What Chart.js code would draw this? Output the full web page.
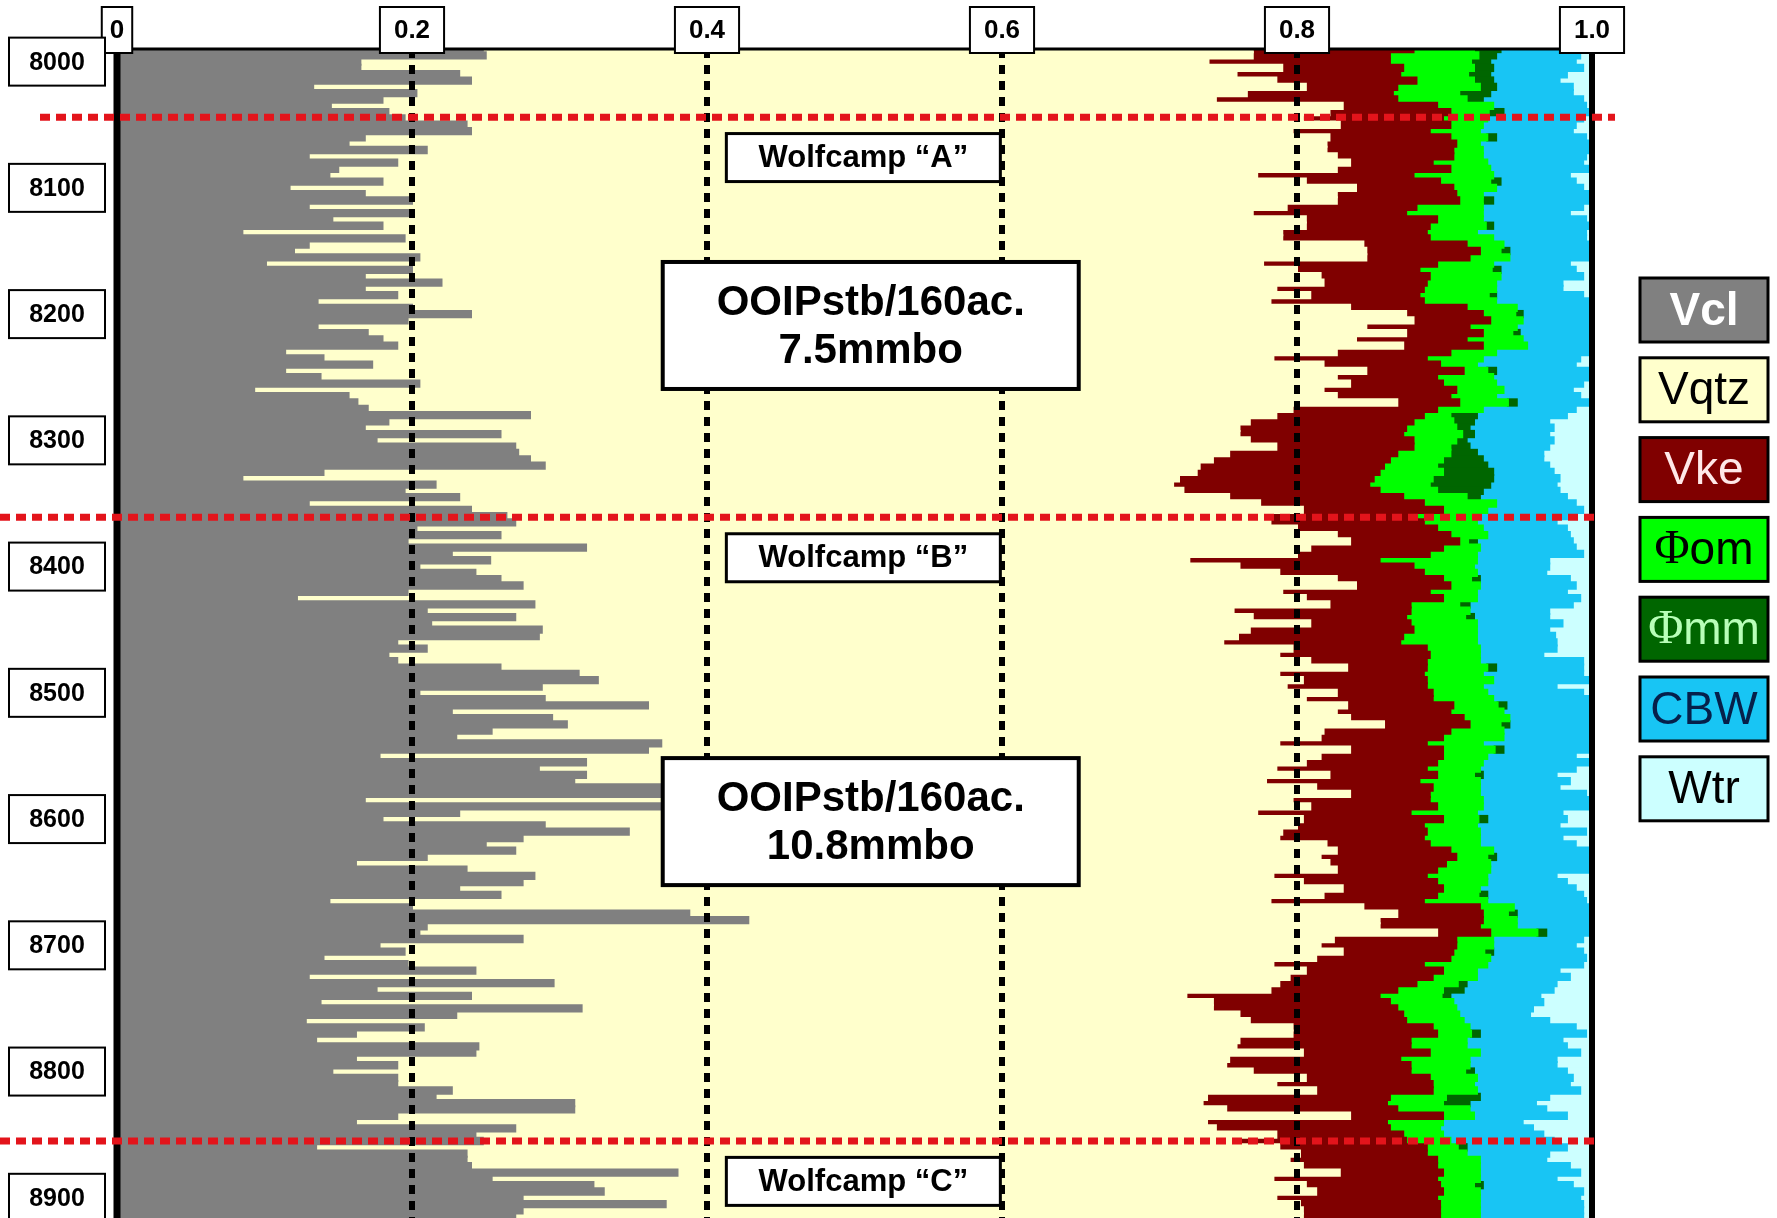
<!DOCTYPE html>
<html>
<head>
<meta charset="utf-8">
<script src="https://cdn.jsdelivr.net/npm/chart.js@4.4.0/dist/chart.umd.min.js"></script>
<style>
  html, body { margin: 0; padding: 0; background: #fff; }
  #wrap { width: 1777px; height: 1218px; }
</style>
</head>
<body>
<div id="wrap"><canvas id="logChart"></canvas></div>
<script>
// DEPTH SAMPLES (ft)
const depths = [
  7990,7995,8000,8005,8010,8015,8020,8025,8030,8035,
  8040,8045,8050,8055,8060,8065,8070,8075,8080,8085,
  8090,8095,8100,8105,8110,8115,8120,8125,8130,8135,
  8140,8145,8150,8155,8160,8165,8170,8175,8180,8185,
  8190,8195,8200,8205,8210,8215,8220,8225,8230,8235,
  8240,8245,8250,8255,8260,8265,8270,8275,8280,8285,
  8290,8295,8300,8305,8310,8315,8320,8325,8330,8335,
  8340,8345,8350,8355,8360,8365,8370,8375,8380,8385,
  8390,8395,8400,8405,8410,8415,8420,8425,8430,8435,
  8440,8445,8450,8455,8460,8465,8470,8475,8480,8485,
  8490,8495,8500,8505,8510,8515,8520,8525,8530,8535,
  8540,8545,8550,8555,8560,8565,8570,8575,8580,8585,
  8590,8595,8600,8605,8610,8615,8620,8625,8630,8635,
  8640,8645,8650,8655,8660,8665,8670,8675,8680,8685,
  8690,8695,8700,8705,8710,8715,8720,8725,8730,8735,
  8740,8745,8750,8755,8760,8765,8770,8775,8780,8785,
  8790,8795,8800,8805,8810,8815,8820,8825,8830,8835,
  8840,8845,8850,8855,8860,8865,8870,8875,8880,8885,
  8890,8895,8900,8905,8910,8915
];

// CUMULATIVE VOLUME (% of bulk), right edge of each component
const vclTop = [
  24.8,25.0,16.5,16.5,23.2,24.0,13.3,20.3,18.0,14.5,
  18.4,19.5,23.7,24.0,16.8,15.7,21.0,13.0,19.0,15.0,
  14.4,18.0,11.7,16.8,20.0,13.0,20.0,14.6,18.0,8.5,
  19.5,13.0,12.0,20.5,10.1,20.0,16.8,22.0,16.8,19.0,
  13.6,20.0,24.0,19.7,13.6,17.0,18.0,19.0,11.4,14.0,
  17.3,11.4,13.8,20.5,9.3,15.7,16.3,17.0,28.0,18.4,
  16.8,26.0,17.6,27.0,27.2,28.0,29.0,14.0,8.5,21.6,
  19.5,23.2,13.0,24.0,26.4,27.0,20.3,26.0,19.7,31.8,
  22.7,25.3,20.5,24.3,26.0,27.5,19.7,12.2,28.3,21.0,
  27.0,21.3,28.8,28.6,19.0,21.0,18.4,19.0,26.0,31.3,
  32.6,28.8,20.5,29.0,36.0,22.7,29.5,30.5,25.4,23.0,
  36.9,36.0,17.8,31.8,28.6,31.8,31.0,36.9,36.9,16.8,
  36.9,23.2,18.0,29.0,34.7,27.5,25.0,27.0,21.0,16.2,
  23.7,28.3,27.5,23.2,26.0,14.4,20.0,38.8,42.8,21.0,
  20.5,27.5,17.8,19.5,14.0,19.7,24.3,13.0,29.6,17.6,
  24.0,13.8,31.5,23.0,12.8,20.8,16.2,13.5,24.5,24.3,
  16.2,19.0,14.6,19.0,19.0,22.7,21.6,31.0,31.0,19.0,
  16.2,27.0,24.3,24.8,13.5,23.7,23.7,24.0,38.0,25.4,
  32.3,33.0,27.5,37.2,27.5,27.0
];
const qtzTop = [
  77.0,77.0,74.0,79.0,75.9,78.6,80.6,76.6,74.5,83.1,
  82.2,80.4,82.9,79.7,82.2,82.0,82.0,82.7,83.6,82.7,
  77.3,80.6,84.0,82.7,82.7,79.3,77.0,80.6,80.6,79.0,
  79.0,84.5,84.7,84.7,77.7,80.0,81.6,81.8,78.6,80.9,
  78.2,83.6,87.4,87.9,84.7,87.4,84.0,87.2,82.7,78.4,
  81.8,84.7,82.7,83.6,81.8,82.7,86.8,79.7,78.6,76.8,
  76.1,76.1,76.8,78.6,75.4,74.3,73.4,73.2,72.0,71.6,
  72.3,75.4,77.5,80.4,77.7,78.2,80.0,82.7,83.6,80.9,
  80.0,72.7,76.1,78.8,82.7,84.0,79.0,80.6,82.2,75.7,
  77.0,80.9,76.8,76.0,75.0,79.7,78.8,80.9,83.4,78.8,
  80.4,79.3,82.7,80.6,83.4,82.7,83.6,85.9,81.8,81.6,
  78.8,83.6,81.6,80.6,78.6,82.2,77.9,81.3,83.6,79.7,
  80.9,77.3,80.4,80.0,79.0,78.8,82.0,82.7,81.6,82.2,
  82.7,78.4,80.4,83.1,81.8,78.2,84.5,86.8,85.6,85.6,
  89.5,82.5,81.6,83.1,81.3,78.4,80.6,79.5,78.8,78.2,
  72.5,74.3,74.3,76.1,76.8,79.7,79.7,76.1,75.9,80.4,
  75.4,75.2,77.0,80.6,78.6,81.3,73.9,73.6,75.2,83.6,
  73.9,74.5,78.6,76.1,78.8,80.2,79.5,80.4,82.9,78.4,
  80.6,81.3,78.6,80.2,80.4,80.4
];
const keTop = [
  87.9,86.3,86.3,87.2,87.0,88.1,86.8,86.5,86.8,89.5,
  90.4,89.9,90.4,89.0,90.4,90.8,90.6,90.6,89.2,90.4,
  87.9,89.7,90.6,90.8,91.0,88.1,87.4,89.5,89.0,88.8,
  89.0,91.5,92.4,91.7,89.5,88.3,89.0,88.8,88.6,88.3,
  88.6,91.5,92.6,93.1,91.7,92.6,91.5,92.6,90.4,88.8,
  89.7,91.3,89.5,89.9,90.8,90.4,91.0,89.5,88.6,87.9,
  87.4,87.2,87.9,87.9,86.8,86.3,85.9,85.6,85.2,84.9,
  85.6,87.2,88.6,89.9,87.7,88.6,89.5,90.4,91.0,89.9,
  89.0,85.6,87.9,88.6,89.9,90.4,89.0,89.9,87.7,87.7,
  87.4,87.7,87.9,87.2,87.0,88.8,89.0,88.8,88.8,88.6,
  88.8,88.8,89.2,89.2,90.6,90.4,91.3,91.7,90.4,89.9,
  88.8,89.9,89.9,89.5,88.8,89.5,88.3,89.2,89.0,89.0,
  89.5,87.7,89.9,88.6,88.8,88.6,89.0,90.4,90.8,90.1,
  89.5,88.8,89.5,89.9,89.5,88.6,92.4,92.6,92.6,92.4,
  93.1,90.8,90.8,90.6,90.4,88.6,89.9,89.2,88.1,86.8,
  85.6,86.3,86.8,87.2,87.4,89.2,89.5,87.7,87.7,89.0,
  87.0,87.7,87.7,89.0,89.2,89.2,86.3,86.1,86.8,89.9,
  86.1,86.3,87.2,87.4,88.8,88.8,89.5,89.5,89.9,89.5,
  89.7,89.9,89.5,89.7,89.7,89.7
];
const omTop = [
  92.0,92.3,91.8,92.0,91.6,92.0,92.4,91.0,91.5,93.3,
  93.0,92.9,92.6,92.4,92.9,92.4,92.6,92.6,92.9,93.1,
  93.3,93.1,93.5,92.6,92.6,92.6,92.6,92.6,92.8,92.2,
  93.3,94.0,93.8,94.4,93.3,93.2,93.8,93.5,93.5,93.0,
  93.5,94.9,94.8,95.3,94.9,94.6,95.3,95.6,93.5,92.6,
  92.2,92.9,93.3,93.5,94.0,93.5,94.3,92.6,90.4,90.6,
  90.8,91.2,90.8,90.4,90.4,89.9,89.5,89.9,89.2,89.0,
  89.5,91.5,93.5,92.9,92.2,92.2,92.6,92.9,91.6,92.4,
  92.2,92.2,92.0,92.2,91.8,92.4,92.2,92.2,91.0,91.7,
  91.4,92.2,92.2,92.2,92.2,92.4,92.4,92.4,92.9,92.6,
  93.3,92.6,92.9,93.3,93.6,94.0,94.4,93.8,94.0,94.0,
  92.6,93.4,92.9,92.6,92.4,92.0,92.4,92.4,92.4,92.6,
  92.6,92.2,92.3,92.2,92.4,92.4,92.4,93.3,92.9,93.1,
  93.1,92.9,92.9,92.4,92.3,92.9,94.7,94.3,94.9,94.9,
  96.3,93.3,93.3,92.7,93.1,92.9,92.2,92.2,90.9,89.9,
  89.8,90.6,90.8,91.0,91.3,91.7,91.8,91.5,91.5,92.4,
  91.7,91.7,91.4,92.2,92.0,92.2,90.1,89.9,91.7,92.0,
  89.9,89.7,89.9,90.4,90.9,91.5,92.4,92.4,92.4,92.4,
  92.0,92.4,92.4,92.4,92.4,92.4
];
const mmTop = [
  93.8,93.5,93.1,93.3,93.1,93.3,93.5,93.1,92.6,93.3,
  94.0,92.9,92.6,92.4,93.5,92.4,92.6,92.6,92.9,93.1,
  93.3,93.8,93.5,92.6,93.3,92.6,92.6,92.6,93.3,92.2,
  93.3,94.0,94.4,94.4,93.3,93.8,93.8,93.5,93.5,93.5,
  93.5,94.9,95.3,95.3,94.9,95.1,95.3,95.6,93.5,92.6,
  92.2,93.5,93.3,93.5,94.0,93.5,94.9,92.6,92.2,92.0,
  91.7,92.0,91.5,91.7,92.2,92.6,92.9,93.3,93.3,93.1,
  92.6,92.4,93.5,92.9,92.2,92.2,92.6,92.9,92.2,92.4,
  92.2,92.2,92.0,92.2,92.4,92.4,92.2,92.2,91.7,91.7,
  92.0,92.2,92.2,92.2,92.2,92.4,92.4,92.4,93.5,92.6,
  93.3,92.6,92.9,93.3,94.2,94.0,94.4,94.4,94.0,94.0,
  92.6,94.0,92.9,92.6,92.4,92.6,92.4,92.4,92.4,92.6,
  92.6,92.2,92.9,92.2,92.4,92.4,92.4,93.3,93.5,93.1,
  93.1,92.9,92.9,92.4,92.9,92.9,94.7,94.9,94.9,94.9,
  96.9,93.3,93.3,93.3,93.1,92.9,92.2,92.2,91.5,91.3,
  90.4,90.6,90.8,91.0,91.3,91.7,92.4,91.5,91.5,92.4,
  91.7,91.7,92.0,92.2,92.0,92.2,92.4,91.7,91.7,92.0,
  89.9,89.7,89.9,90.4,91.5,91.5,92.4,92.4,92.4,92.4,
  92.6,92.4,92.4,92.4,92.4,92.4
];
const cbwTop = [
  98.7,99.2,98.9,99.4,98.3,97.8,98.7,98.7,99.4,99.6,
  99.9,99.4,98.9,98.7,99.6,99.9,100,99.6,99.4,99.9,
  98.5,98.9,99.4,100,99.9,99.4,98.5,99.6,99.9,99.6,
  99.6,99.9,99.9,99.9,98.5,98.9,99.4,98.0,98.0,99.4,
  100,100,100,100,100,100,100,100,100,99.2,
  98.9,99.9,99.9,99.4,98.7,99.2,99.9,98.9,98.3,97.1,
  97.4,97.1,97.4,97.1,96.7,96.7,97.1,97.4,97.8,97.6,
  97.8,98.3,98.9,99.4,98.3,97.6,98.3,98.5,98.7,98.9,
  99.4,97.1,97.1,96.9,98.5,98.9,98.3,99.2,98.7,97.1,
  97.1,98.0,97.1,97.5,97.6,97.6,96.7,99.4,99.4,99.4,
  99.9,97.6,99.4,100,100,100,100,100,100,100,
  100,99.9,98.9,100,98.9,97.6,98.5,97.8,99.6,99.9,
  100,98.0,98.3,97.8,99.6,98.0,98.9,100,100,99.9,
  99.9,97.6,98.3,98.9,99.4,99.6,100,100,100,100,
  100,99.4,98.9,99.4,99.6,99.4,97.8,98.5,97.6,97.4,
  96.5,96.7,96.0,95.8,97.1,98.9,99.6,98.0,98.3,99.2,
  97.6,97.6,98.3,98.7,98.5,99.2,97.1,96.2,96.9,98.3,
  95.3,96.0,96.7,97.4,98.3,97.1,96.9,98.5,99.2,97.6,
  98.7,99.4,99.2,99.4,99.4,99.4
];

const seriesNames = ['Vcl', 'Vqtz', 'Vke', 'Φom', 'Φmm', 'CBW', 'Wtr'];
const seriesColors = ['#808080', '#ffffcc', '#800000', '#00ff00', '#006600', '#18c5f4', '#ccffff'];
const legendTextColors = ['#ffffff', '#000000', '#ffe8e8', '#000000', '#b8ffb8', '#06204a', '#000000'];

const xTicks = [0, 0.2, 0.4, 0.6, 0.8, 1.0];
const xTickLabels = ['0', '0.2', '0.4', '0.6', '0.8', '1.0'];
const depthTicks = [8000, 8100, 8200, 8300, 8400, 8500, 8600, 8700, 8800, 8900];

// formation tops (ft) and labels
const zoneTops = [8044, 8361, 8855];
const zoneLabels = ['Wolfcamp “A”', 'Wolfcamp “B”', 'Wolfcamp “C”'];
const oilLabels = [['OOIPstb/160ac.', '7.5mmbo'], ['OOIPstb/160ac.', '10.8mmbo']];

// STACKED COMPONENTS (empty pieces left out so nothing is drawn for them)
const tops = [vclTop, qtzTop, keTop, omTop, mmTop, cbwTop, depths.map(() => 100)];

const datasets = seriesNames.map((name, k) => ({
  label: name,
  data: depths.map((d, i) => {
    const part = tops[k][i] - (k ? tops[k - 1][i] : 0);
    return { y: d, x: part > 0 ? part / 100 : null };
  }),
  backgroundColor: seriesColors[k],
  borderWidth: 0,
  inflateAmount: 1,
  barPercentage: 1,
  categoryPercentage: 1
}));

const SANS = '"Liberation Sans", Arial, sans-serif';

function box(ctx, cx, cy, w, h, lw) {
  ctx.fillStyle = '#fff';
  ctx.fillRect(cx - w / 2, cy - h / 2, w, h);
  ctx.lineWidth = lw;
  ctx.strokeStyle = '#000';
  ctx.strokeRect(cx - w / 2, cy - h / 2, w, h);
}

function legendText(ctx, label, cx, cy, color, bold) {
  const sans = (bold ? 'bold ' : '') + '46px ' + SANS;
  const serif = '48px "Liberation Serif", "Times New Roman", serif';
  let head = '', rest = label;
  if (label[0] === 'Φ') { head = 'Φ'; rest = label.slice(1); }
  ctx.font = serif;
  const hw = head ? ctx.measureText(head).width : 0;
  ctx.font = sans;
  const rw = ctx.measureText(rest).width;
  let left = cx - (hw + rw) / 2;
  ctx.fillStyle = color;
  ctx.textAlign = 'left';
  ctx.textBaseline = 'middle';
  if (head) { ctx.font = serif; ctx.fillText(head, left, cy + 1); left += hw; }
  ctx.font = sans;
  ctx.fillText(rest, left, cy + 2);
}

// OVERLAY: grid, zone tops, label boxes, legend
const overlay = {
  id: 'overlay',
  afterDatasetsDraw(chart) {
    const { ctx, chartArea: a, scales: { x, y } } = chart;
    ctx.save();

    // vertical grid, drawn over the log
    ctx.strokeStyle = '#000';
    xTicks.forEach(v => {
      const px = x.getPixelForValue(v);
      ctx.beginPath();
      ctx.lineWidth = v === 0 ? 7 : 6;
      ctx.setLineDash(v === 0 || v === 1 ? [] : [9, 7]);
      ctx.moveTo(px, a.top);
      ctx.lineTo(px, a.bottom);
      ctx.stroke();
    });
    ctx.setLineDash([]);
    ctx.lineWidth = 3;
    ctx.beginPath();
    ctx.moveTo(a.left, a.top);
    ctx.lineTo(a.right, a.top);
    ctx.stroke();

    // formation tops
    ctx.strokeStyle = '#e3141b';
    ctx.lineWidth = 7;
    ctx.setLineDash([10, 6]);
    zoneTops.forEach((d, i) => {
      const py = y.getPixelForValue(d);
      ctx.beginPath();
      ctx.moveTo(i === 0 ? 40 : 0, py);
      ctx.lineTo(i === 0 ? 1615 : 1598, py);
      ctx.stroke();
    });
    ctx.setLineDash([]);

    // zone names
    const cx = x.getPixelForValue(0.506);
    ctx.textAlign = 'center';
    ctx.textBaseline = 'middle';
    zoneTops.forEach((d, i) => {
      const py = y.getPixelForValue(d + 32);
      box(ctx, cx, py, 274, 48, 3);
      ctx.fillStyle = '#000';
      ctx.font = 'bold 31px ' + SANS;
      ctx.fillText(zoneLabels[i], cx, py + 1);
    });

    // OOIP boxes
    const ox = x.getPixelForValue(0.511);
    [8209, 8602].forEach((d, i) => {
      const py = y.getPixelForValue(d);
      box(ctx, ox, py, 416, 127, 4);
      ctx.fillStyle = '#000';
      ctx.font = 'bold 42px ' + SANS;
      ctx.fillText(oilLabels[i][0], ox, py - 22);
      ctx.fillText(oilLabels[i][1], ox, py + 26);
    });

    // x tick boxes on top
    ctx.font = 'bold 26px ' + SANS;
    xTicks.forEach((v, i) => {
      const px = x.getPixelForValue(v);
      const lab = xTickLabels[i];
      const w = ctx.measureText(lab).width + (lab.length > 1 ? 28 : 16);
      box(ctx, px, 30, w, 46, 2);
      ctx.fillStyle = '#000';
      ctx.fillText(lab, px, 31);
    });

    // depth boxes on the left
    ctx.font = 'bold 25px ' + SANS;
    depthTicks.forEach(d => {
      const py = y.getPixelForValue(d);
      box(ctx, 57, py, 96, 48, 2);
      ctx.fillStyle = '#000';
      ctx.fillText(String(d), 57, py + 1);
    });

    // legend
    chart.data.datasets.forEach((ds, k) => {
      const top = 278 + k * 79.8;
      ctx.fillStyle = ds.backgroundColor;
      ctx.fillRect(1640, top, 128, 64);
      ctx.lineWidth = 3;
      ctx.strokeStyle = '#000';
      ctx.strokeRect(1640, top, 128, 64);
      legendText(ctx, ds.label, 1704, top + 32, legendTextColors[k], k === 0);
    });

    ctx.restore();
  }
};

new Chart(document.getElementById('logChart'), {
  type: 'bar',
  data: { datasets },
  options: {
    indexAxis: 'y',
    animation: false,
    responsive: true,
    maintainAspectRatio: false,
    devicePixelRatio: 1,
    layout: { padding: { left: 117, top: 49, right: 185, bottom: 0 } },
    plugins: { legend: { display: false }, tooltip: { enabled: false } },
    scales: {
      x: { type: 'linear', min: 0, max: 1, stacked: true, display: false },
      y: {
        type: 'linear', min: 7990, max: 8916, reverse: true, stacked: true, display: false,
        offset: false,
        ticks: { stepSize: 100, includeBounds: false }
      }
    }
  },
  plugins: [overlay]
});
</script>
</body>
</html>
